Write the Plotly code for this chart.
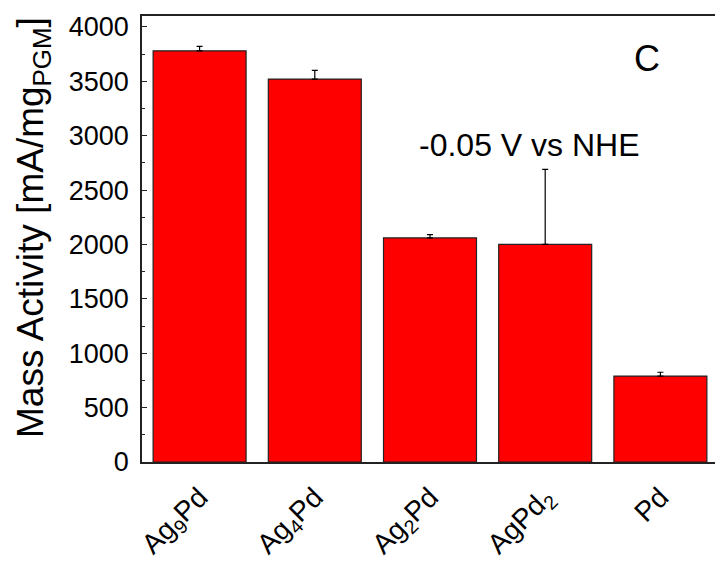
import plotly.graph_objects as go

# Catalyst compositions and their mass activity at -0.05 V vs NHE
catalysts = ["Ag<sub>9</sub>Pd", "Ag<sub>4</sub>Pd", "Ag<sub>2</sub>Pd", "AgPd<sub>2</sub>", "Pd"]
mass_activity = [3780, 3520, 2060, 2000, 790]
activity_error = [40, 80, 30, 690, 35]

y_ticks = [0, 500, 1000, 1500, 2000, 2500, 3000, 3500, 4000]

FONT = "Liberation Sans, Arial, sans-serif"

fig = go.Figure()
fig.add_trace(go.Bar(
    x=list(range(len(catalysts))),
    y=mass_activity,
    marker=dict(color="#FF0000", line=dict(color="#222222", width=1.2)),
    error_y=dict(type="data", array=activity_error,
                 arrayminus=[0] * len(activity_error), symmetric=False,
                 color="#000000", thickness=1.2, width=3),
    width=0.807,
))

fig.update_layout(
    width=715, height=562,
    margin=dict(l=142, r=0, t=16, b=82),
    paper_bgcolor="white", plot_bgcolor="white",
    showlegend=False,
    font=dict(family=FONT, color="#000000"),
    xaxis=dict(
        range=[-0.5, 4.474],
        tickvals=list(range(len(catalysts))),
        ticktext=catalysts,
        tickangle=-45,
        tickfont=dict(size=28),
        ticklabelstandoff=6,
        ticks="",
        showline=True, linecolor="#222222", linewidth=1.5,
        mirror=True,
        showgrid=False, zeroline=False,
    ),
    yaxis=dict(
        range=[0, 4100],
        tickvals=y_ticks,
        tickfont=dict(size=27),
        ticklabelstandoff=6,
        ticks="inside", ticklen=5, tickwidth=1.2, tickcolor="#222222",
        minor=dict(ticks="inside", ticklen=3, tickwidth=1, tickcolor="#222222", dtick=250),
        showline=True, linecolor="#222222", linewidth=1.5,
        showgrid=False, zeroline=False,
    ),
    yaxis2=dict(
        range=[0, 4100], overlaying="y", side="right",
        tickvals=y_ticks, showticklabels=False,
        ticks="inside", ticklen=5, tickwidth=1.2, tickcolor="#222222",
        showline=False, showgrid=False, zeroline=False,
    ),
    annotations=[
        dict(text="Mass Activity [mA/mg<sub>PGM</sub>]", xref="paper", yref="paper",
             x=-0.19, y=0.525, textangle=-90, showarrow=False,
             font=dict(size=37), xanchor="center", yanchor="middle"),
        dict(text="-0.05 V vs NHE", xref="paper", yref="paper",
             x=0.677, y=0.711, showarrow=False, font=dict(size=32),
             xanchor="center", yanchor="middle"),
        dict(text="C", xref="paper", yref="paper",
             x=0.881, y=0.905, showarrow=False, font=dict(size=36),
             xanchor="center", yanchor="middle"),
    ],
)

fig.write_html("out.html")
